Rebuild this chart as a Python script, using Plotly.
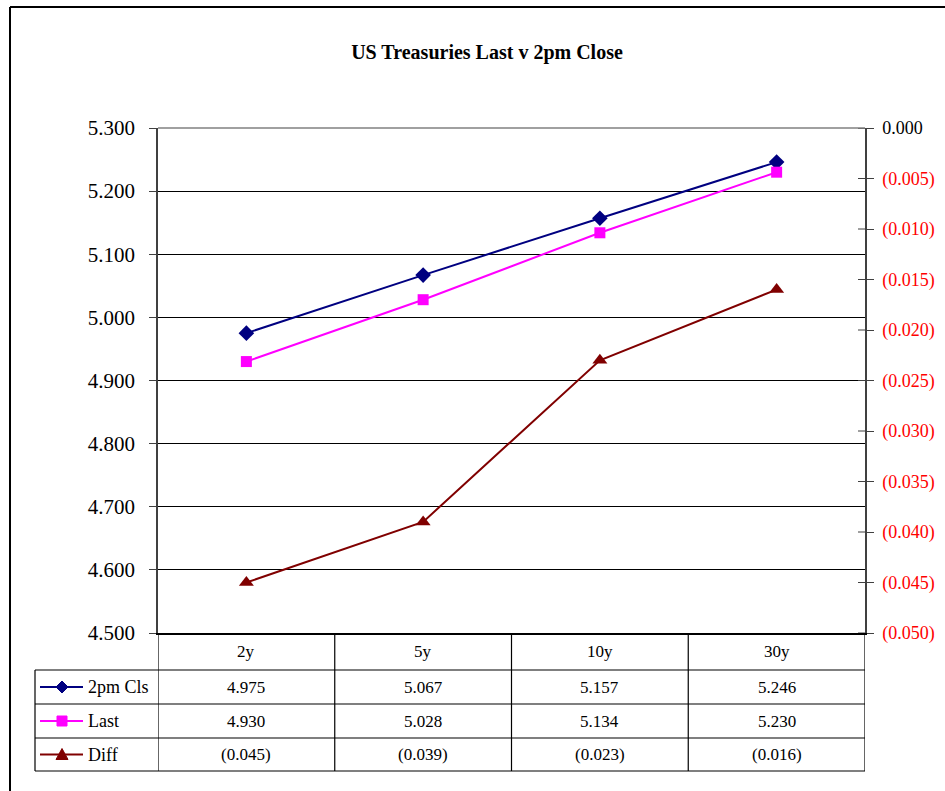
import plotly.graph_objects as go

# ---- data ----
categories = ["2y", "5y", "10y", "30y"]
close_2pm = [4.975, 5.067, 5.157, 5.246]
last = [4.930, 5.028, 5.134, 5.230]
diff = [-0.045, -0.039, -0.023, -0.016]
series_names = ["2pm Cls", "Last", "Diff"]
left_ticks = [4.5, 4.6, 4.7, 4.8, 4.9, 5.0, 5.1, 5.2, 5.3]
right_ticks = [0.0, -0.005, -0.010, -0.015, -0.020, -0.025, -0.030, -0.035, -0.040, -0.045, -0.050]

W, H = 945, 791
FONT = "Liberation Serif"


def X(p):
    return p / W


def Y(p):
    return 1 - p / H


def fmt(v):
    return "({:.3f})".format(abs(v)) if v < 0 else "{:.3f}".format(v)


PL, PR, PT, PB = 158, 865, 128, 633
colors = ["#000080", "#FF00FF", "#800000"]
symbols = ["diamond", "square", "triangle-up"]
msizes = [12, 11, 13]

fig = go.Figure()
fig.add_trace(go.Scatter(x=categories, y=close_2pm, name=series_names[0], mode="lines+markers",
                         line=dict(color=colors[0], width=2),
                         marker=dict(symbol=symbols[0], size=msizes[0], color=colors[0])))
fig.add_trace(go.Scatter(x=categories, y=last, name=series_names[1], mode="lines+markers",
                         line=dict(color=colors[1], width=2),
                         marker=dict(symbol=symbols[1], size=msizes[1], color=colors[1])))
fig.add_trace(go.Scatter(x=categories, y=diff, name=series_names[2], mode="lines+markers", yaxis="y2",
                         line=dict(color=colors[2], width=2),
                         marker=dict(symbol=symbols[2], size=msizes[2], color=colors[2])))

right_text = []
for v in right_ticks:
    s = fmt(v)
    right_text.append(s if v >= 0 else "<span style='color:#FF0000'>" + s + "</span>")

fig.update_layout(
    template="none",
    width=W, height=H,
    margin=dict(l=0, r=0, t=0, b=0, pad=0),
    paper_bgcolor="white", plot_bgcolor="white",
    showlegend=False,
    font=dict(family=FONT, color="black"),
    title=dict(text="<b>US Treasuries Last v 2pm Close</b>", x=X(487), y=Y(52),
               xanchor="center", yanchor="middle", xref="paper", yref="paper",
               font=dict(family=FONT, size=20, color="black")),
    xaxis=dict(domain=[X(PL), X(PR)], range=[-0.5, 3.5], type="category", automargin=False,
               showticklabels=False, ticks="", showgrid=False,
               showline=True, linecolor="black", linewidth=2, zeroline=False),
    yaxis=dict(domain=[Y(PB), Y(PT)], range=[4.5, 5.3], tickvals=left_ticks, automargin=False,
               ticktext=[fmt(v) for v in left_ticks], ticks="outside", ticklen=7,
               tickcolor="#404040", showline=True, linecolor="#404040", linewidth=1.5,
               showgrid=True, gridcolor="black", gridwidth=1, zeroline=False,
               tickfont=dict(family=FONT, size=21, color="black"), ticklabelstandoff=10),
    yaxis2=dict(overlaying="y", side="right", anchor="x", range=[-0.05, 0.0], automargin=False,
                tickvals=right_ticks, ticktext=right_text, ticks="outside", ticklen=7,
                tickcolor="#404040", showline=True, linecolor="#404040", linewidth=1.5,
                showgrid=False, zeroline=False,
                tickfont=dict(family=FONT, size=18, color="black"), ticklabelstandoff=5),
)

shapes = []
# outer chart border
shapes.append(dict(type="line", xref="paper", yref="paper", x0=X(10), x1=X(960), y0=Y(7), y1=Y(7),
                   line=dict(color="black", width=2)))
shapes.append(dict(type="line", xref="paper", yref="paper", x0=X(10), x1=X(10), y0=Y(7), y1=Y(800),
                   line=dict(color="black", width=2)))
# plot area top border
shapes.append(dict(type="line", xref="paper", yref="paper", x0=X(PL), x1=X(PR), y0=Y(PT), y1=Y(PT),
                   line=dict(color="#808080", width=1.5)))
# inner half of crossing ticks on right axis
for v in right_ticks:
    shapes.append(dict(type="line", xref="paper", yref="y2", x0=X(PR - 7), x1=X(PR), y0=v, y1=v,
                       line=dict(color="#404040", width=1)))

# data table
row_bounds = [633, 670, 704, 738, 771]
TL = 35
for i in range(len(categories) + 1):
    shapes.append(dict(type="line", xref="x", yref="paper", x0=i - 0.5, x1=i - 0.5,
                       y0=Y(row_bounds[0]), y1=Y(row_bounds[-1]), line=dict(color="black", width=1.2)))
shapes.append(dict(type="line", xref="paper", yref="paper", x0=X(TL), x1=X(TL),
                   y0=Y(row_bounds[1]), y1=Y(row_bounds[-1]), line=dict(color="black", width=1.2)))
for yb in row_bounds[1:]:
    shapes.append(dict(type="line", xref="paper", yref="paper", x0=X(TL), x1=X(PR), y0=Y(yb), y1=Y(yb),
                       line=dict(color="black", width=1.2)))

TFS = 17
annotations = []
for i, c in enumerate(categories):
    annotations.append(dict(x=c, xref="x", y=Y((row_bounds[0] + row_bounds[1]) / 2), yref="paper",
                            yanchor="middle", text=c, showarrow=False,
                            font=dict(family=FONT, size=TFS, color="black")))

table_rows = [close_2pm, last, diff]
for r, vals in enumerate(table_rows):
    yc = (row_bounds[r + 1] + row_bounds[r + 2]) / 2
    for i, v in enumerate(vals):
        annotations.append(dict(x=categories[i], xref="x", y=Y(yc), yref="paper", yanchor="middle",
                                text=fmt(v), showarrow=False,
                                font=dict(family=FONT, size=TFS, color="black")))
    # legend key
    shapes.append(dict(type="line", xref="paper", yref="paper", x0=X(40), x1=X(83), y0=Y(yc), y1=Y(yc),
                       line=dict(color=colors[r], width=2)))
    annotations.append(dict(x=X(86), xref="paper", y=Y(yc), yref="paper", text=series_names[r],
                            xanchor="left", yanchor="middle", showarrow=False,
                            font=dict(family=FONT, size=18, color="black")))

# legend key markers
mk = 6
cx = 62
yc0 = (row_bounds[1] + row_bounds[2]) / 2
shapes.append(dict(type="path", xref="paper", yref="paper",
                   path="M {} {} L {} {} L {} {} L {} {} Z".format(X(cx - mk), Y(yc0), X(cx), Y(yc0 - mk),
                                                                  X(cx + mk), Y(yc0), X(cx), Y(yc0 + mk)),
                   fillcolor=colors[0], line=dict(color=colors[0], width=1)))
yc1 = (row_bounds[2] + row_bounds[3]) / 2
shapes.append(dict(type="rect", xref="paper", yref="paper", x0=X(cx - 5), x1=X(cx + 5),
                   y0=Y(yc1 - 5), y1=Y(yc1 + 5), fillcolor=colors[1], line=dict(color=colors[1], width=1)))
yc2 = (row_bounds[3] + row_bounds[4]) / 2
shapes.append(dict(type="path", xref="paper", yref="paper",
                   path="M {} {} L {} {} L {} {} Z".format(X(cx - 6), Y(yc2 + 5), X(cx), Y(yc2 - 6),
                                                          X(cx + 6), Y(yc2 + 5)),
                   fillcolor=colors[2], line=dict(color=colors[2], width=1)))

fig.update_layout(shapes=shapes, annotations=annotations)
fig.write_html("out.html", config={"displayModeBar": False},
               post_script="document.body.style.margin='0';document.body.style.overflow='hidden';")
